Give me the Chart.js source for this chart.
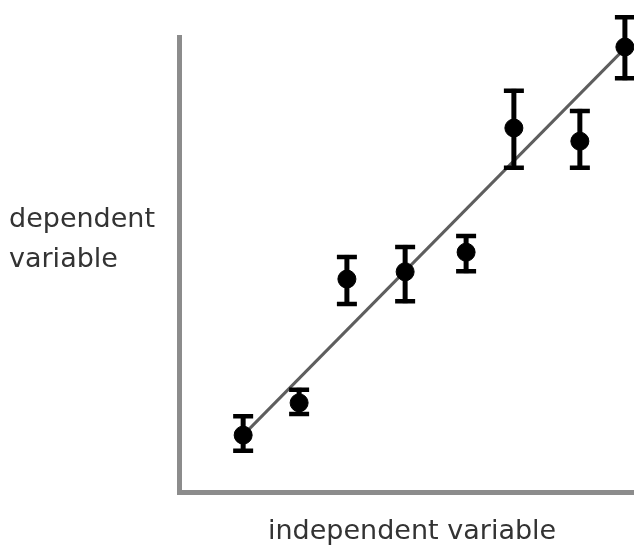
<!DOCTYPE html>
<html>
<head>
<meta charset="utf-8">
<script src="https://cdn.jsdelivr.net/npm/chart.js@4"></script>
<style>
    html, body { margin: 0; padding: 0; background: #fff; }
    #wrap { position: relative; width: 634px; height: 546px; }
    canvas { position: absolute; left: 0; top: 0; }
    .lbl {
        position: absolute;
        font-family: "DejaVu Sans", sans-serif;
        font-size: 27px;
        color: #333;
        line-height: 40px;
        white-space: nowrap;
    }
</style>
</head>
<body>
<div id="wrap">
    <canvas id="chart" width="634" height="546"></canvas>
    <div class="lbl" style="left:9px; top:198px;">dependent<br>variable</div>
    <div class="lbl" style="left:268px; top:510px;">independent variable</div>
</div>
<script>
// measurements (arbitrary units, 0-10 on both axes)
const xValues = [1.41, 2.64, 3.69, 4.97, 6.31, 7.36, 8.81, 9.8];
const yValues = [1.25, 1.96, 4.68, 4.84, 5.27, 8.0, 7.71, 9.78];
const yErrLow = [0.86, 1.67, 4.09, 4.15, 4.81, 7.08, 7.08, 9.05];
const yErrHigh = [1.71, 2.29, 5.21, 5.43, 5.67, 8.86, 8.42, 10.48];

// best-fit line end points
const fitX = [1.41, 9.8];
const fitY = [1.25, 9.75];

const errorBars = {
    id: "errorBars",
    afterDatasetsDraw(chart) {
        const { ctx, scales } = chart;
        const xs = scales.x, ys = scales.y;
        ctx.save();
        ctx.strokeStyle = "#000";
        ctx.lineCap = "butt";
        xValues.forEach((xv, i) => {
            const px = xs.getPixelForValue(xv);
            const lo = ys.getPixelForValue(yErrLow[i]);
            const hi = ys.getPixelForValue(yErrHigh[i]);
            ctx.lineWidth = 5;
            ctx.beginPath();
            ctx.moveTo(px, lo);
            ctx.lineTo(px, hi);
            ctx.stroke();
            ctx.lineWidth = 4.5;
            ctx.beginPath();
            ctx.moveTo(px - 10, lo - 2);
            ctx.lineTo(px + 10, lo - 2);
            ctx.moveTo(px - 10, hi + 2);
            ctx.lineTo(px + 10, hi + 2);
            ctx.stroke();
        });
        ctx.restore();
    },
};

new Chart(document.getElementById("chart").getContext("2d"), {
    type: "scatter",
    data: {
        datasets: [
            {
                label: "data",
                data: xValues.map((x, i) => ({ x, y: yValues[i] })),
                backgroundColor: "#000",
                borderColor: "#000",
                pointRadius: 9,
                pointHoverRadius: 9,
                clip: false,
            },
            {
                label: "fit",
                type: "line",
                data: fitX.map((x, i) => ({ x, y: fitY[i] })),
                borderColor: "#5e5e5e",
                borderWidth: 3,
                pointRadius: 0,
                fill: false,
                clip: false,
            },
        ],
    },
    options: {
        responsive: false,
        animation: false,
        layout: {
            autoPadding: false,
            padding: { left: 179, top: 37, right: 0, bottom: 54 },
        },
        plugins: { legend: { display: false }, tooltip: { enabled: false } },
        scales: {
            x: {
                type: "linear",
                min: 0,
                max: 10,
                grid: { display: false },
                ticks: { display: false },
                border: { display: true, color: "#8c8c8c", width: 5 },
                afterFit: (s) => { s.height = 0; },
            },
            y: {
                type: "linear",
                min: 0,
                max: 10,
                grid: { display: false },
                ticks: { display: false },
                border: { display: true, color: "#8c8c8c", width: 5 },
                afterFit: (s) => { s.width = 0; },
            },
        },
    },
    plugins: [errorBars],
});
</script>
</body>
</html>
